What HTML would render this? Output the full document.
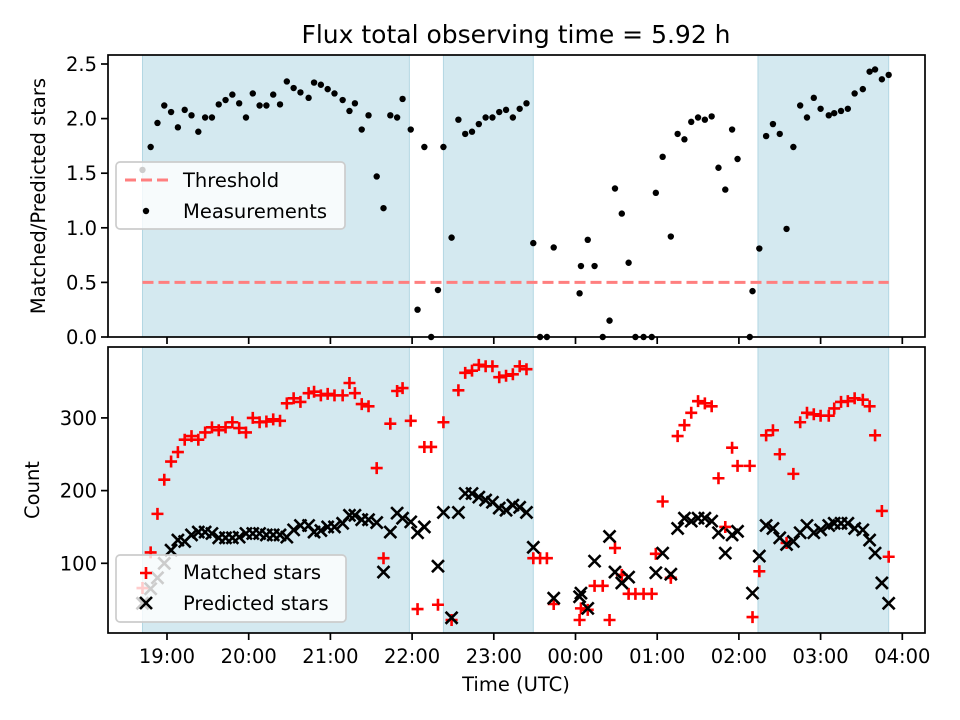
<!DOCTYPE html>
<html><head><meta charset="utf-8"><style>
body{margin:0;background:#fff;}
svg{display:block;font-family:"DejaVu Sans","Liberation Sans",sans-serif;}
</style></head><body>
<svg id="chart" width="960" height="720" viewBox="0 0 960 720" xmlns="http://www.w3.org/2000/svg"></svg>
<script>
// minutes since 18:00 for each measurement
const times = [42,48,53,58,63,68,73,78,83,88,93,98,103,108,113,118,123,128,133,138,143,148,153,158,164,168,173,178,183,189,194,198,203,208,214,219,224,229,233,239,244,249,254,259,263,269,274,279,284,289,294,299,304,309,314,319,324,329,334,339,344,363,364,369,374,380,385,389,394,399,404,410,416,419,424,430,435,440,445,450,455,460,465,470,475,479,488,490,495,500,505,510,515,520,525,530,535,540,546,550,555,560,565,571,576,580,585,590];
const ratio = [1.53,1.74,1.96,2.12,2.06,1.92,2.08,2.03,1.88,2.01,2.01,2.13,2.17,2.22,2.14,2.01,2.23,2.12,2.12,2.22,2.13,2.34,2.28,2.24,2.19,2.33,2.31,2.27,2.23,2.17,2.07,2.14,1.90,2.03,1.47,1.18,2.03,2.01,2.18,1.90,0.25,1.74,0,0.43,1.74,0.91,1.99,1.86,1.88,1.95,2.01,2.01,2.06,2.08,2.01,2.09,2.14,0.86,0,0,0.82,0.40,0.65,0.89,0.65,0,0.15,1.36,1.13,0.68,0,0,0,1.32,1.65,0.92,1.86,1.81,1.97,2.01,1.99,2.02,1.55,1.35,1.90,1.63,0,0.42,0.81,1.84,1.95,1.86,0.99,1.74,2.12,2.01,2.19,2.09,2.03,2.05,2.07,2.09,2.23,2.27,2.43,2.45,2.36,2.40];
const matched = [66,115,168,215,240,253,270,275,270,280,287,283,287,294,286,280,300,294,295,298,296,320,327,322,334,336,331,333,331,331,348,334,319,316,231,107,292,337,341,296,37,260,260,43,294,22,338,362,365,373,371,371,356,358,360,371,367,107,107,107,44,22,38,36,69,69,22,121,84,58,58,58,58,113,185,80,275,290,307,323,320,316,217,150,259,234,234,26,89,276,283,250,128,223,294,307,305,303,303,313,322,323,327,325,316,276,172,109];
const predicted = [45,65,80,100,118,132,130,139,143,143,141,135,135,135,136,141,141,141,139,139,139,136,146,152,152,143,145,150,150,155,166,166,160,160,156,88,143,169,162,157,142,150,null,96,170,25,170,196,196,191,187,184,176,173,180,177,170,122,null,null,52,54,59,38,103,null,137,88,73,81,null,null,null,87,114,85,148,162,158,162,162,158,142,114,139,144,null,59,110,152,148,135,126,130,142,152,142,146,152,155,155,155,148,146,132,114,73,45];
const spanStart = [42,263,494];
const spanEnd = [238,329,590];
const threshold = [0.5];
const xTickMinutes = [60,120,180,240,300,360,420,480,540,600];
const xTickLabels = ["19:00","20:00","21:00","22:00","23:00","00:00","01:00","02:00","03:00","04:00"];
const yTopTicks = [0,0.5,1.0,1.5,2.0,2.5];
const yBotTicks = [100,200,300];

const NS="http://www.w3.org/2000/svg";
const svg=document.getElementById('chart');
function mk(tag,attrs,parent){const e=document.createElementNS(NS,tag);for(const k in attrs)e.setAttribute(k,attrs[k]);(parent||svg).appendChild(e);return e;}
const L=108,R=925,T1=55,B1=337,T2=347,B2=633;
const xS=m=>167+(m-60)*81.7/60;
const yTop=v=>337-v*109.2;
const yBot=c=>636-c*0.727;

// spans
[[T1,B1,'top'],[T2,B2,'bottom']].forEach(([t,b,nm])=>{
  spanStart.forEach((s,i)=>{
    const r=mk('rect',{x:xS(s),y:t,width:xS(spanEnd[i])-xS(s),height:b-t,fill:'#d4e9f0',stroke:'#b3d7e3','stroke-width':1});
    
    
  });
});

// threshold
const th=mk('line',{x1:xS(times[0]),x2:xS(times[times.length-1]),y1:yTop(threshold[0]),y2:yTop(threshold[0]),stroke:'#ff7f7f','stroke-width':3,'stroke-dasharray':'11,5'});



// measurements
const gm=mk('g',{});


times.forEach((t,i)=>{if(ratio[i]==null)return;
  const c=mk('circle',{cx:xS(t),cy:yTop(ratio[i]),r:3.2,fill:'#000'},gm);
  
  
});

function plus(x,y,g){const p=mk('path',{d:`M${x-6},${y}H${x+6}M${x},${y-6}V${y+6}`,stroke:'#f00','stroke-width':2.6,fill:'none'},g);return p;}
function cross(x,y,g){const p=mk('path',{d:`M${x-6},${y-6}L${x+6},${y+6}M${x-6},${y+6}L${x+6},${y-6}`,stroke:'#000','stroke-width':2.6,fill:'none'},g);return p;}
const clip=mk('clipPath',{id:'botclip'});mk('rect',{x:L,y:T2,width:R-L,height:B2-T2},clip);
const gMatch=mk('g',{'clip-path':'url(#botclip)'});


const gPred=mk('g',{'clip-path':'url(#botclip)'});


times.forEach((t,i)=>{
  if(matched[i]!=null){const p=plus(xS(t),yBot(matched[i]),gMatch);
    
    }
  if(predicted[i]!=null){const p=cross(xS(t),yBot(predicted[i]),gPred);
    
    }
});

// axes frames
[[T1,B1,'top-axes-frame'],[T2,B2,'bottom-axes-frame']].forEach(([t,b,nm])=>{
  const r=mk('rect',{x:L,y:t,width:R-L,height:b-t,fill:'none',stroke:'#000','stroke-width':1.7});
  
  
});
// x ticks
xTickMinutes.forEach((m,i)=>{
  const x=xS(m);
  mk('line',{x1:x,x2:x,y1:B1,y2:B1+7,stroke:'#000','stroke-width':1.7});
  mk('line',{x1:x,x2:x,y1:B2,y2:B2+7,stroke:'#000','stroke-width':1.7});
  const tx=mk('text',{x:x,y:663,'text-anchor':'middle','font-size':19.5,fill:'#000'});
  tx.textContent=xTickLabels[i];
  
  
});
yTopTicks.forEach(v=>{
  const y=yTop(v);
  mk('line',{x1:L-7,x2:L,y1:y,y2:y,stroke:'#000','stroke-width':1.7});
  const tx=mk('text',{x:L-11,y:y+7,'text-anchor':'end','font-size':19.5,fill:'#000'});
  tx.textContent=v.toFixed(1);
  
  
});
yBotTicks.forEach(v=>{
  const y=yBot(v);
  mk('line',{x1:L-7,x2:L,y1:y,y2:y,stroke:'#000','stroke-width':1.7});
  const tx=mk('text',{x:L-11,y:y+7,'text-anchor':'end','font-size':19.5,fill:'#000'});
  tx.textContent=String(v);
  
  
});
</script>
<svg style="position:absolute;left:0;top:0" width="960" height="720" xmlns="http://www.w3.org/2000/svg" font-family="DejaVu Sans, Liberation Sans, sans-serif">
  <text x="516" y="43" text-anchor="middle" font-size="25">Flux total observing time = 5.92 h</text>
  <text x="516" y="691" text-anchor="middle" font-size="19.5">Time (UTC)</text>
  <text transform="translate(45,196) rotate(-90)" text-anchor="middle" font-size="19.5">Matched/Predicted stars</text>
  <text transform="translate(39,490) rotate(-90)" text-anchor="middle" font-size="19.5">Count</text>
  <g>
    <rect x="116" y="162" width="229" height="67" rx="4" fill="#ffffff" fill-opacity="0.8" stroke="#cccccc" stroke-width="1.7"/>
    <line x1="125" x2="168" y1="180" y2="180" stroke="#ff7f7f" stroke-width="3" stroke-dasharray="11,5"/>
    <text x="183" y="187" font-size="19.5">Threshold</text>
    <circle cx="146" cy="211" r="3.2" fill="#000"/>
    <text x="183" y="218" font-size="19.5">Measurements</text>
  </g>
  <g>
    <rect x="116" y="555" width="230" height="67" rx="4" fill="#ffffff" fill-opacity="0.8" stroke="#cccccc" stroke-width="1.7"/>
    <path d="M140,573H152M146,567V579" stroke="#f00" stroke-width="2.6"/>
    <text x="183" y="579" font-size="19.5">Matched stars</text>
    <path d="M140,597L152,609M140,609L152,597" stroke="#000" stroke-width="2.6"/>
    <text x="183" y="610" font-size="19.5">Predicted stars</text>
  </g>
</svg>
</body></html>
